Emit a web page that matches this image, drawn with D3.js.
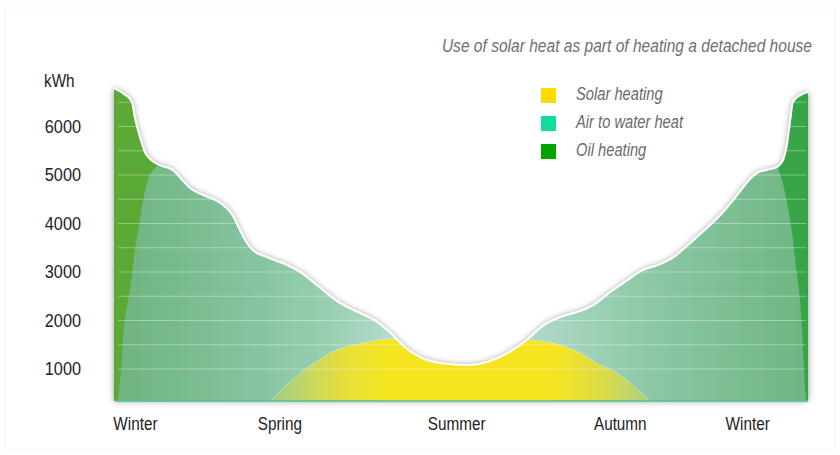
<!DOCTYPE html>
<html>
<head>
<meta charset="utf-8">
<script src="https://cdn.jsdelivr.net/npm/d3@7"></script>
<style>
  html, body { margin: 0; padding: 0; background: #ffffff; }
  svg { display: block; }
  text { font-family: "Liberation Sans", Arial, sans-serif; }
</style>
</head>
<body>
<svg id="chart" width="840" height="455"></svg>
<script>
// ---------- DATA ----------
const title = "Use of solar heat as part of heating a detached house";
const unitLabel = "kWh";
const yTicks = [1000, 2000, 3000, 4000, 5000, 6000];
const gridValues = [1000, 1500, 2000, 2500, 3000, 3500, 4000, 4500, 5000, 5500, 6000, 6500];
const baseValue = 340;           // kWh level of the chart floor

const seasonLabels = ["Winter", "Spring", "Summer", "Autumn", "Winter"];
const seasonDays   = [11, 87, 180, 266, 333];

// total heating demand (top white curve) = oil heating envelope
const totalDays = [0, 4.7, 9.5, 11, 13.7, 16.3, 19, 24, 31, 36, 40, 47, 56, 63, 65, 70, 73, 80.5, 91, 98,
  108, 119, 129.5, 137, 145, 153, 161, 171.5, 186, 196, 207, 217, 226, 234.6, 245, 252, 261, 270, 278,
  287, 295, 303, 313.5, 319, 324.3, 329.5, 334.7, 338.9, 343.6, 348.8, 352, 354, 355.6, 357, 361, 365];
const totalKWh = [6790, 6690, 6505, 6196, 5784, 5474, 5330, 5206, 5103, 4897, 4732, 4588, 4423, 4134, 3969, 3598, 3454, 3309, 3144, 3000,
  2691, 2361, 2155, 2010, 1763, 1454, 1247, 1124, 1082, 1144, 1330, 1598, 1907, 2072, 2196, 2320, 2588, 2835, 3041,
  3160, 3330, 3600, 3969, 4180, 4420, 4680, 4930, 5060, 5110, 5170, 5330, 5660, 6134, 6505, 6650, 6711];

// air to water heat
const airDays = [2.1, 2.6, 3.7, 4.7, 7.4, 9.5, 11, 13.2, 15.3, 17.9, 20.5, 23, 28, 40, 180, 330, 343, 348.7,
  351.3, 354, 355.6, 356.6, 358.7, 360.8, 362.4, 363.5, 364];
const airKWh = [340, 567, 979, 1598, 2423, 2938, 3454, 3969, 4485, 4897, 5103, 5186, 5300, 5450, 5500, 5450, 5300, 5170,
  4897, 4423, 4072, 3804, 3103, 2423, 1392, 567, 340];

// solar heating
const solarDays = [82.6, 91.5, 101.6, 117.3, 131, 145.2, 176.7, 203, 218.8, 234.6, 245, 255.6, 264.6, 271.4, 276.7, 281.5];
const solarKWh  = [340, 690, 1020, 1392, 1536, 1619, 1660, 1660, 1598, 1495, 1330, 1082, 918, 711, 526, 340];

const legendNames  = ["Solar heating", "Air to water heat", "Oil heating"];
const legendColors = ["#fedb00", "#14dba2", "#00a300"];

// ---------- CHART ----------
const svg = d3.select("#chart");
const x = d3.scaleLinear().domain([0, 365]).range([114, 808]);
const y = d3.scaleLinear().domain([0, 7000]).range([417.5, 78]);
const narrow = "scale(0.85,1)";

const zip = (a, b) => a.map((d, i) => [d, b[i]]);
const total = zip(totalDays, totalKWh);
const air = zip(airDays, airKWh);
const solar = zip(solarDays, solarKWh);

const area = d3.area().x(d => x(d[0])).y0(y(baseValue)).y1(d => y(d[1])).curve(d3.curveMonotoneX);
const line = d3.line().x(d => x(d[0])).y(d => y(d[1])).curve(d3.curveMonotoneX);

const defs = svg.append("defs");
defs.append("filter").attr("id", "shadow").attr("x", "-10%").attr("y", "-10%").attr("width", "120%").attr("height", "120%")
  .append("feGaussianBlur").attr("stdDeviation", 3);
defs.append("clipPath").attr("id", "totalClip").append("path").attr("d", area(total));

function hGrad(id, stops) {
  const g = defs.append("linearGradient").attr("id", id).attr("gradientUnits", "userSpaceOnUse")
    .attr("x1", x(0)).attr("x2", x(365)).attr("y1", 0).attr("y2", 0);
  stops.forEach(s => g.append("stop").attr("offset", (s[0] - x(0)) / (x(365) - x(0)))
    .attr("stop-color", s[1]).attr("stop-opacity", s[2] === undefined ? 1 : s[2]));
}
hGrad("oilGrad", [[114, "#5ca935"], [460, "#4aa73e"], [808, "#36a548"]]);
hGrad("airGrad", [[114, "#6db47e"], [250, "#84c49e"], [330, "#98cfb2"], [395, "#b3ddca"], [470, "#b8dfcd"],
  [545, "#acd8c3"], [650, "#8cc8a6"], [808, "#6db680"]]);
hGrad("solarGrad", [[271, "#f3e01f", 0.2], [300, "#f3e01f", 0.45], [340, "#f4e21f", 0.8], [385, "#f5e420", 1],
  [555, "#f5e420", 1], [600, "#f3e01f", 0.75], [649, "#f3e01f", 0.3]]);

// panel
svg.append("rect").attr("x", 5).attr("y", 8).attr("width", 830).attr("height", 442)
  .attr("fill", "#ffffff").attr("stroke", "#f3f3f3").attr("stroke-width", 1);

// shadow
svg.append("path").attr("d", area(total)).attr("fill", "#333").attr("opacity", 0.55).attr("filter", "url(#shadow)");

// oil heating
svg.append("path").attr("d", area(total)).attr("fill", "url(#oilGrad)");

const clipped = svg.append("g").attr("clip-path", "url(#totalClip)");
clipped.append("path").attr("d", area(air)).attr("fill", "url(#airGrad)");
clipped.append("path").attr("d", area(solar)).attr("fill", "url(#solarGrad)");
clipped.append("path").attr("d", line(solar)).attr("fill", "none").attr("stroke", "#ffffff")
  .attr("stroke-opacity", 0.35).attr("stroke-width", 1);

// grid lines
clipped.selectAll("line.grid").data(gridValues).enter().append("line").attr("class", "grid")
  .attr("x1", x(0) + 4).attr("x2", x(365) - 2).attr("y1", d => y(d)).attr("y2", d => y(d))
  .attr("stroke", "#ffffff").attr("stroke-opacity", 0.35).attr("stroke-width", 1);

// floor line
svg.append("line").attr("x1", x(0) + 2).attr("x2", x(365)).attr("y1", y(baseValue)).attr("y2", y(baseValue))
  .attr("stroke", "#55c190").attr("stroke-width", 1.5);

// white top curve
svg.append("path").attr("d", line(total)).attr("fill", "none").attr("stroke", "#ffffff").attr("stroke-width", 2.2);

// axes
const yAxis = svg.append("g").attr("transform", "translate(81,0)")
  .call(d3.axisLeft(y).tickValues(yTicks).tickSize(0).tickPadding(0).tickFormat(d3.format("d")));
yAxis.select(".domain").remove();
yAxis.selectAll("text").attr("font-size", 18.5).attr("fill", "#222")
  .style("font-family", "'Liberation Sans', Arial, sans-serif").attr("transform", "scale(0.88,1)");

const xAxis = svg.append("g").attr("transform", "translate(0,410)")
  .call(d3.axisBottom(x).tickValues(seasonDays).tickSize(0).tickPadding(7).tickFormat((d, i) => seasonLabels[i]));
xAxis.select(".domain").remove();
xAxis.selectAll("text").attr("font-size", 18).attr("fill", "#222")
  .style("font-family", "'Liberation Sans', Arial, sans-serif").attr("transform", narrow);

svg.append("g").attr("transform", "translate(44,87)")
  .append("text").attr("transform", narrow).attr("font-size", 18).attr("fill", "#222").text(unitLabel);

// title
svg.append("g").attr("transform", "translate(812,52)")
  .append("text").attr("transform", "scale(0.865,1)").attr("text-anchor", "end").attr("font-size", 18)
  .attr("font-style", "italic").attr("fill", "#707070").text(title);

// legend
const lg = svg.append("g");
legendNames.forEach((name, i) => {
  lg.append("rect").attr("x", 541).attr("y", 88 + i * 28).attr("width", 15).attr("height", 15).attr("fill", legendColors[i]);
  lg.append("g").attr("transform", `translate(576,${99.5 + i * 28})`)
    .append("text").attr("transform", "scale(0.84,1)").attr("font-size", 17.5).attr("font-style", "italic")
    .attr("fill", "#6a6a6a").text(name);
});
</script>
</body>
</html>
